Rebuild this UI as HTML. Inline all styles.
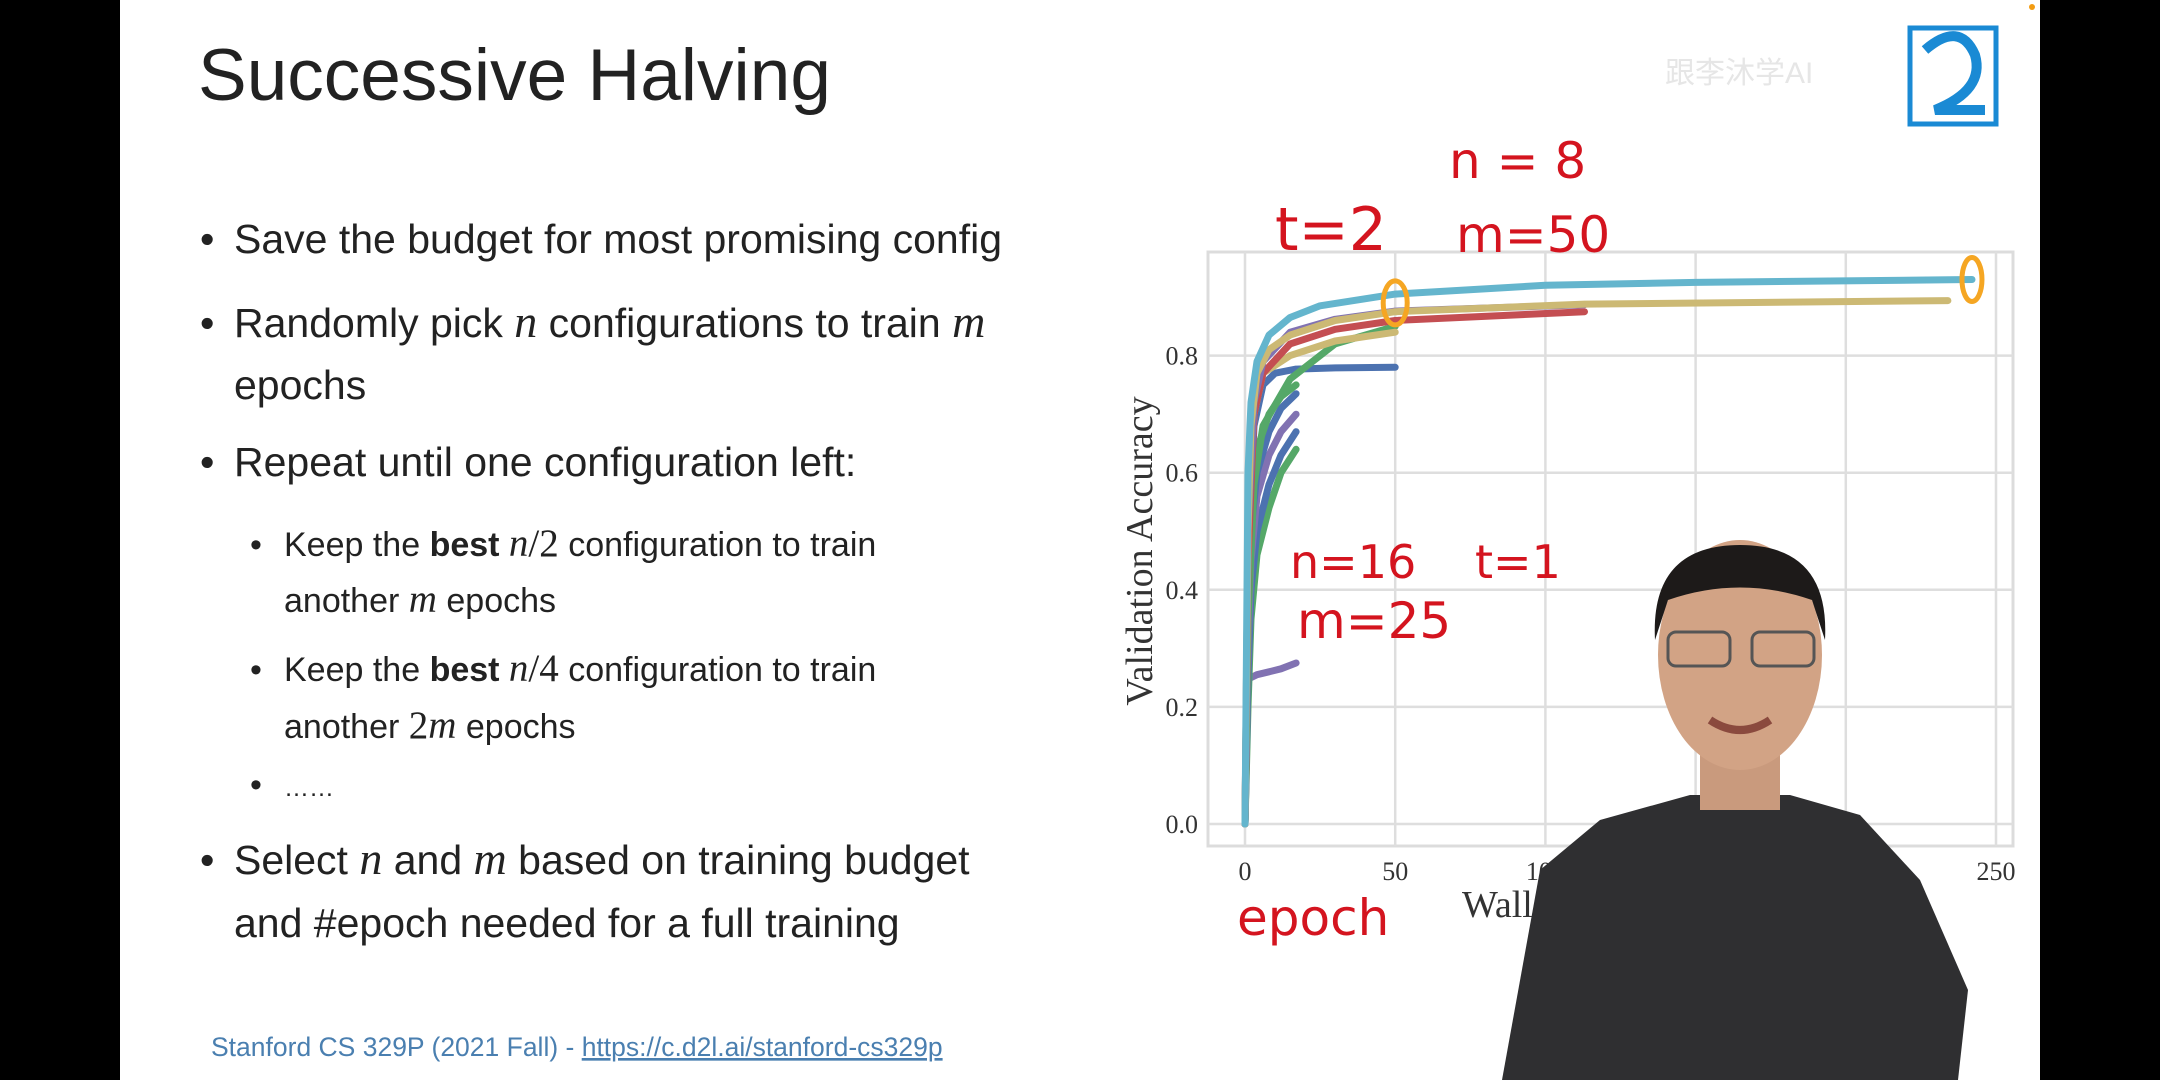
<!DOCTYPE html>
<html><head><meta charset="utf-8"><style>
html,body{margin:0;padding:0;background:#000;width:2160px;height:1080px;overflow:hidden}
svg{display:block}
.t{font-family:"Liberation Sans",sans-serif;fill:#222}
.m{font-family:"Liberation Serif",serif;font-style:italic}
.tick{font-family:"Liberation Serif","DejaVu Serif",serif;font-size:26px;fill:#333}
.hand{font-family:"DejaVu Sans","Liberation Sans",sans-serif;fill:#d4141f}
</style></head><body>
<svg id="slide" width="2160" height="1080" viewBox="0 0 2160 1080">
<rect x="0" y="0" width="2160" height="1080" fill="#000"/>
<rect x="120" y="0" width="1920" height="1080" fill="#fff"/>
<circle cx="2032" cy="7" r="3" fill="#f39c12"/>
<text class="t" x="198" y="100" font-size="73">Successive Halving</text>

<g>
<text class="t" x="200" y="253" font-size="41">•<tspan x="234">Save the budget for most promising config</tspan></text>
<text class="t" x="200" y="337" font-size="41">•<tspan x="234">Randomly pick </tspan><tspan class="m" font-size="46">n</tspan><tspan> configurations to train </tspan><tspan class="m" font-size="46">m</tspan></text>
<text class="t" x="234" y="399" font-size="41">epochs</text>
<text class="t" x="200" y="476" font-size="41">•<tspan x="234">Repeat until one configuration left:</tspan></text>
<text class="t" x="250" y="556" font-size="34">•<tspan x="284">Keep the </tspan><tspan font-weight="bold">best </tspan><tspan class="m" font-size="39">n</tspan><tspan font-family="Liberation Serif" font-size="39">/2</tspan><tspan> configuration to train</tspan></text>
<text class="t" x="284" y="612" font-size="34">another <tspan class="m" font-size="39">m</tspan> epochs</text>
<text class="t" x="250" y="681" font-size="34">•<tspan x="284">Keep the </tspan><tspan font-weight="bold">best </tspan><tspan class="m" font-size="39">n</tspan><tspan font-family="Liberation Serif" font-size="39">/4</tspan><tspan> configuration to train</tspan></text>
<text class="t" x="284" y="738" font-size="34">another <tspan font-family="Liberation Serif" font-size="39">2</tspan><tspan class="m" font-size="39">m</tspan> epochs</text>
<text class="t" x="250" y="796" font-size="34">•<tspan x="284" font-size="25">……</tspan></text>
<text class="t" x="200" y="874" font-size="41">•<tspan x="234">Select </tspan><tspan class="m" font-size="46">n</tspan><tspan> and </tspan><tspan class="m" font-size="46">m</tspan><tspan> based on training budget</tspan></text>
<text class="t" x="234" y="937" font-size="41">and #epoch needed for a full training</text>
</g>
<text x="211" y="1056" font-size="26.5" font-family="Liberation Sans,sans-serif" fill="#4a7fb0">Stanford CS 329P (2021 Fall) - <tspan text-decoration="underline">https://c.d2l.ai/stanford-cs329p</tspan></text>

<g>
<text x="1665" y="83" font-size="30" fill="#e6e6e6" font-family="Liberation Sans,Noto Sans CJK SC,sans-serif">跟李沐学AI</text>
<rect x="1910" y="28" width="86" height="96" fill="none" stroke="#1a8ad4" stroke-width="5"/>
<path d="M1925,50 Q1960,20 1975,55 Q1985,90 1935,110 L1985,110" fill="none" stroke="#1a8ad4" stroke-width="10"/>
</g>

<g id="chart"></g>

<g>
<path d="M1502,1080 L1540,870 L1600,820 L1690,795 L1790,795 L1860,815 L1920,880 L1968,990 L1958,1080 Z" fill="#2f2f31"/>
<rect x="1700" y="720" width="80" height="90" fill="#c99a7d"/>
<ellipse cx="1740" cy="655" rx="82" ry="115" fill="#d2a385"/>
<path d="M1655,640 Q1650,545 1740,545 Q1830,545 1825,640 L1812,600 Q1740,575 1668,600 Z" fill="#1d1a19"/>
<rect x="1668" y="632" width="62" height="34" rx="8" fill="none" stroke="#555" stroke-width="3"/>
<rect x="1752" y="632" width="62" height="34" rx="8" fill="none" stroke="#555" stroke-width="3"/>
<path d="M1710,720 Q1740,740 1770,720" stroke="#8a4a3e" stroke-width="8" fill="none"/>
</g>
</svg>
<script>
const xTicks = [0, 50, 100, 150, 200, 250];
const yTicks = [0.0, 0.2, 0.4, 0.6, 0.8];
const yTickLabels = ["0.0", "0.2", "0.4", "0.6", "0.8"];
const seriesColors = ["#64b5cd","#ccb974","#8172b2","#c44e52","#ccb974","#55a868","#4c72b0","#55a868","#4c72b0","#8172b2","#4c72b0","#55a868","#8172b2"];
const cyanX = [0,1,2,4,8,15,25,50,100,150,242];
const cyanY = [0,0.6,0.72,0.79,0.835,0.865,0.885,0.905,0.92,0.925,0.93];
const tanX = [0,1,2,4,8,15,30,50,113,234];
const tanY = [0,0.5,0.68,0.77,0.81,0.835,0.86,0.875,0.888,0.894];
const purpleX = [0,1,3,6,15,30,50,113];
const purpleY = [0,0.5,0.72,0.79,0.84,0.862,0.876,0.887];
const redX = [0,1,3,6,15,30,50,113];
const redY = [0,0.45,0.7,0.77,0.82,0.845,0.86,0.875];
const tan2X = [0,1,3,6,15,30,50];
const tan2Y = [0,0.5,0.7,0.77,0.80,0.825,0.84];
const greenX = [0,1,3,6,15,30,50];
const greenY = [0,0.35,0.58,0.68,0.76,0.82,0.85];
const blueX = [0,1,3,6,10,17,30,50];
const blueY = [0,0.45,0.68,0.75,0.77,0.777,0.779,0.78];
const shortX = [0,1,2,4,8,12,17];
const green2Y = [0,0.4,0.55,0.64,0.7,0.73,0.75];
const blue2Y = [0,0.35,0.5,0.6,0.67,0.71,0.735];
const purple2Y = [0,0.3,0.45,0.56,0.63,0.67,0.70];
const blue3Y = [0,0.25,0.4,0.5,0.58,0.63,0.67];
const green3Y = [0,0.2,0.35,0.46,0.54,0.6,0.64];
const purple3Y = [0,0.25,0.25,0.255,0.26,0.265,0.275];

const seriesX = [cyanX,tanX,purpleX,redX,tan2X,greenX,blueX,shortX,shortX,shortX,shortX,shortX,shortX];
const seriesY = [cyanY,tanY,purpleY,redY,tan2Y,greenY,blueY,green2Y,blue2Y,purple2Y,blue3Y,green3Y,purple3Y];

const NS = "http://www.w3.org/2000/svg";
const X = v => 1245 + v * (751 / 250);
const Y = v => 824 - v * 585.5;
const g = document.getElementById('chart');
function mk(tag, attrs){ const e=document.createElementNS(NS,tag); for(const k in attrs) e.setAttribute(k,attrs[k]); return e; }

const frame = mk('rect',{x:1208,y:252,width:805,height:594,fill:'#fff',stroke:'#dcdcdc','stroke-width':3});


g.appendChild(frame);

xTicks.forEach(t=>{
  const l = mk('line',{x1:X(t),x2:X(t),y1:252,y2:846,stroke:'#dedede','stroke-width':2.5});
  
  
  g.appendChild(l);
  const tx = mk('text',{x:X(t),y:880,'text-anchor':'middle',class:'tick'});
  
  
  tx.textContent = String(t);
  g.appendChild(tx);
});
yTicks.forEach((t,i)=>{
  const l = mk('line',{x1:1208,x2:2013,y1:Y(t),y2:Y(t),stroke:'#dedede','stroke-width':2.5});
  
  
  g.appendChild(l);
  const tx = mk('text',{x:1198,y:Y(t)+9,'text-anchor':'end',class:'tick'});
  
  
  tx.textContent = yTickLabels[i];
  g.appendChild(tx);
});
const yl = mk('text',{x:0,y:0,transform:'translate(1152,551) rotate(-90)','text-anchor':'middle','font-size':38,'font-family':'Liberation Serif,serif',fill:'#333'});


yl.textContent='Validation Accuracy';
g.appendChild(yl);
const xl = mk('text',{x:1462,y:917,'font-size':38,'font-family':'Liberation Serif,serif',fill:'#333'});


xl.textContent='Wall clock time';
g.appendChild(xl);

for(let i=seriesX.length-1;i>=0;i--){
  const pts = seriesX[i].map((x,j)=>X(x).toFixed(1)+','+Y(seriesY[i][j]).toFixed(1)).join(' ');
  const pl = mk('polyline',{points:pts,fill:'none',stroke:seriesColors[i],'stroke-width':7,'stroke-linecap':'round','stroke-linejoin':'round'});
  
  
  g.appendChild(pl);
}

const ann = [["n = 8",1449,178,50],["t=2",1275,250,60],["m=50",1456,252,50],["n=16",1290,578,46],["t=1",1475,578,46],["m=25",1297,638,50],["epoch",1237,935,50]];
ann.forEach(a=>{
  const t = mk('text',{x:a[1],y:a[2],'font-size':a[3],class:'hand'});
  
  
  t.textContent=a[0];
  g.appendChild(t);
});
const c1 = mk('ellipse',{cx:X(50),cy:Y(0.89),rx:12,ry:22,fill:'none',stroke:'#f5a623','stroke-width':5});


g.appendChild(c1);
const c2 = mk('ellipse',{cx:X(242),cy:Y(0.93),rx:10,ry:22,fill:'none',stroke:'#f5a623','stroke-width':5});


g.appendChild(c2);
</script>
</body></html>
